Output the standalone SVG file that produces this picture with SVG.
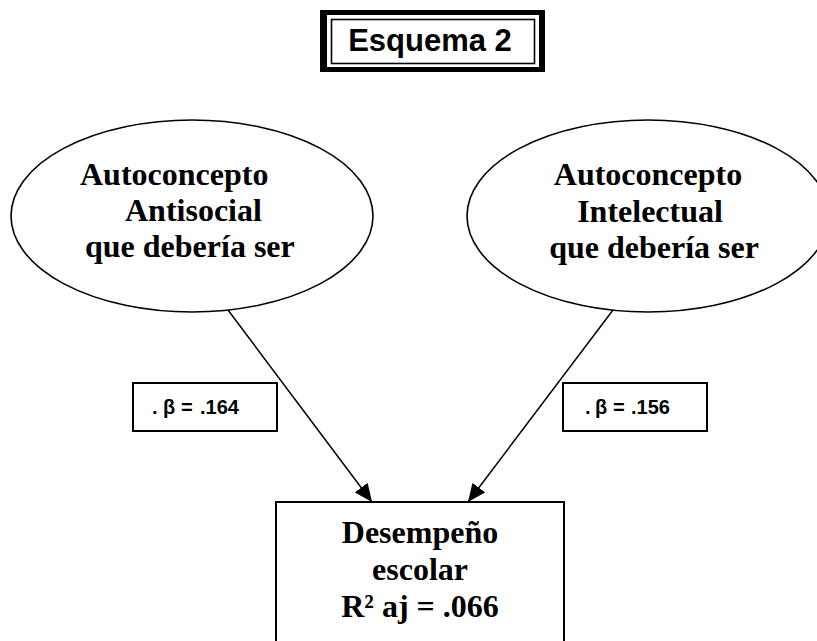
<svg xmlns="http://www.w3.org/2000/svg" width="817" height="641" viewBox="0 0 817 641">
<style>
.serif{font-family:"Liberation Serif","Times New Roman",serif;font-weight:bold;font-size:32px;fill:#000}
.sans{font-family:"Liberation Sans",Arial,sans-serif;font-weight:bold;fill:#000}
.shape{fill:#fff;stroke:#000;stroke-width:1.6}
.box{fill:#fff;stroke:#000;stroke-width:2}
.conn{stroke:#000;stroke-width:1.5;fill:none}
</style>
<defs>
<marker id="arr" viewBox="0 0 10 10" refX="10" refY="5" markerWidth="18" markerHeight="16" markerUnits="userSpaceOnUse" orient="auto" preserveAspectRatio="none">
<path d="M0,0 L10,5 L0,10 z" fill="#000"/>
</marker>
</defs>
<rect width="817" height="641" fill="#fff"/>
<g id="title">
<rect x="320" y="10" width="225" height="62" fill="#000"/>
<rect x="327" y="15" width="212" height="52" fill="#fff"/>
<rect x="331.5" y="19.5" width="203" height="44" fill="none" stroke="#000" stroke-width="1.6"/>
<text class="sans" x="430" y="51" font-size="31" text-anchor="middle">Esquema 2</text>
</g>
<g id="node-antisocial">
<ellipse class="shape" cx="192" cy="216" rx="181" ry="96"/>
<text class="serif"><tspan x="80" y="185">Autoconcepto</tspan><tspan x="125" y="221">Antisocial</tspan><tspan x="85" y="257">que debería ser</tspan></text>
</g>
<g id="node-intelectual">
<ellipse class="shape" cx="648" cy="216" rx="181" ry="96"/>
<text class="serif" text-anchor="middle"><tspan x="648" y="185">Autoconcepto</tspan><tspan x="650" y="222">Intelectual</tspan><tspan x="654" y="258">que debería ser</tspan></text>
</g>
<g id="connectors">
<line class="conn" x1="228" y1="310" x2="372" y2="502" marker-end="url(#arr)"/>
<line class="conn" x1="613" y1="310" x2="468" y2="502" marker-end="url(#arr)"/>
</g>
<g id="label-164">
<rect class="box" x="133" y="383" width="144" height="48"/>
<text class="sans" font-size="20" y="414"><tspan x="152">.</tspan><tspan x="163">β</tspan><tspan x="181">=</tspan><tspan x="200">.164</tspan></text>
</g>
<g id="label-156">
<rect class="box" x="563" y="383" width="144" height="48"/>
<text class="sans" font-size="20" y="414"><tspan x="585">.</tspan><tspan x="595">β</tspan><tspan x="613">=</tspan><tspan x="631">.156</tspan></text>
</g>
<g id="node-desempeno">
<rect class="box" x="276" y="502" width="288" height="160"/>
<text class="serif" text-anchor="middle"><tspan x="420" y="543">Desempeño</tspan><tspan x="420" y="580">escolar</tspan><tspan x="420" y="617">R² aj = .066</tspan></text>
</g>
</svg>
